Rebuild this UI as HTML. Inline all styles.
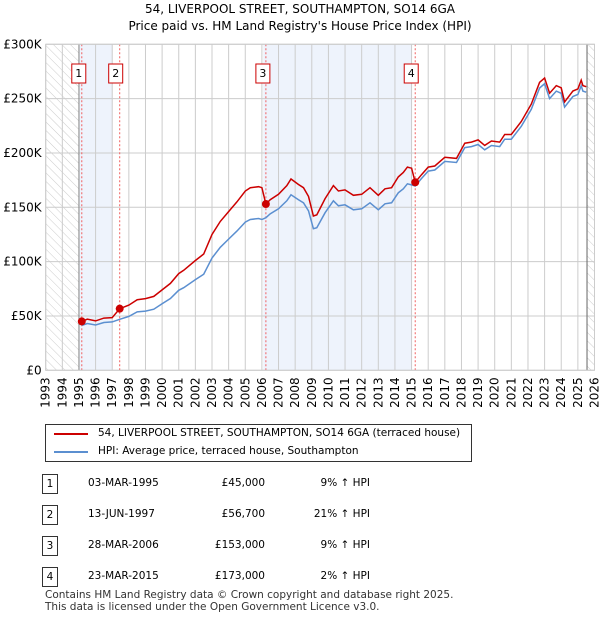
<!DOCTYPE html>
<html><head><meta charset="utf-8"><style>
body{margin:0;background:#fff;font-family:"Liberation Sans","DejaVu Sans",sans-serif;}
#wrap{position:relative;width:600px;height:620px;overflow:hidden}
text{font-family:"DejaVu Sans","Liberation Sans",sans-serif}
</style></head><body><div id="wrap">
<svg id="svg" width="600" height="620" viewBox="0 0 600 620">
<defs><pattern id="hatch" width="6" height="6" patternUnits="userSpaceOnUse" patternTransform="rotate(-45)"><line x1="0" y1="0" x2="0" y2="6" stroke="#ccc" stroke-width="1"/></pattern></defs>
<text x="300" y="13" text-anchor="middle" font-size="12">54, LIVERPOOL STREET, SOUTHAMPTON, SO14 6GA</text>
<text x="300" y="30" text-anchor="middle" font-size="12">Price paid vs. HM Land Registry's House Price Index (HPI)</text>
<g id="plot"></g>
</svg>
<div style="position:absolute;left:45px;top:424px;width:425px;height:36px;border:1px solid #333;font-size:10.5px;white-space:nowrap;font-family:'DejaVu Sans','Liberation Sans',sans-serif">
<div style="position:absolute;left:8px;top:8px;width:34px;height:2px;background:#c00"></div>
<div style="position:absolute;left:52px;top:2px">54, LIVERPOOL STREET, SOUTHAMPTON, SO14 6GA (terraced house)</div>
<div style="position:absolute;left:8px;top:26px;width:34px;height:2px;background:#5b8fd0"></div>
<div style="position:absolute;left:52px;top:20px">HPI: Average price, terraced house, Southampton</div>
</div>
<div id="table" style="font-size:10.5px;font-family:'DejaVu Sans','Liberation Sans',sans-serif"></div>
<div style="position:absolute;left:45px;top:589px;font-size:10.5px;line-height:12px;color:#333;font-family:'DejaVu Sans','Liberation Sans',sans-serif">Contains HM Land Registry data © Crown copyright and database right 2025.<br>This data is licensed under the Open Government Licence v3.0.</div>
</div>
<script>
const times=[1995.17,1995.5,1996,1996.5,1997,1997.45,1998,1998.5,1999,1999.5,2000,2000.5,2001,2001.3,2002,2002.5,2003,2003.5,2004,2004.5,2005,2005.3,2005.8,2006,2006.24,2006.5,2007,2007.5,2007.75,2008.2,2008.5,2008.8,2009.1,2009.3,2009.8,2010.3,2010.6,2011,2011.5,2012,2012.5,2013,2013.4,2013.8,2014.2,2014.5,2014.75,2015.0,2015.22,2015.6,2016,2016.4,2017,2017.7,2018.2,2018.6,2019,2019.4,2019.8,2020.3,2020.6,2021,2021.6,2022.2,2022.7,2023.0,2023.3,2023.7,2024.0,2024.2,2024.7,2025.0,2025.2,2025.3,2025.5];
const redValues=[45,47,45.5,48,48.5,56.7,60,65,66,68,74,80,89,92,101,107,125,137,146,155,165,168,169,168,153,157,162,170,176,171,168,160,142,143,158,170,165,166,161,162,168,161,167,168,178,182,187,186,173,180,187,188,196,195,209,210,212,207,211,210,217,217,229,245,265,269,255,262,260,247,257,259,267,262,261];
const hpiValues=[41.3,43.1,41.7,44,44.5,46.9,49.6,53.7,54.5,56.2,61.2,66.1,73.6,76,83.5,88.4,103.3,113.2,120.7,128.1,136.4,138.8,139.7,138.8,140.4,144,148.6,156,161.5,156.9,154.1,146.8,130.3,131.2,145,156,151.4,152.3,147.7,148.6,154.1,147.7,153.2,154.1,163.3,167,171.6,170.6,169.6,176.5,183.3,184.3,192.2,191.2,204.9,205.9,207.8,202.9,206.9,205.9,212.7,212.7,224.5,240.2,259.8,263.7,250,256.9,254.9,242.2,252,253.9,261.8,256.9,255.9];
const saleLabels=["1","2","3","4"];
const saleTimes=[1995.17,1997.45,2006.24,2015.22];
const salePrices=[45,56.7,153,173];
const saleDates=["03-MAR-1995","13-JUN-1997","28-MAR-2006","23-MAR-2015"];
const salePriceText=["£45,000","£56,700","£153,000","£173,000"];
const saleHpiText=["9% ↑ HPI","21% ↑ HPI","9% ↑ HPI","2% ↑ HPI"];
const yTicks=[0,50,100,150,200,250,300];
const yTickLabels=["£0","£50K","£100K","£150K","£200K","£250K","£300K"];
const shadeRanges=[[1995,1997],[2006.08,2015]];

const X0=45.7,X1=594.5,Y0=370.3,Y1=44.3,T0=1993,T1=2026;
const xs=t=>X0+(t-T0)/(T1-T0)*(X1-X0);
const ys=v=>Y0-v/300*(Y0-Y1);
const NS="http://www.w3.org/2000/svg";
const g=document.getElementById('plot');
function mk(tag,attrs,parent){const e=document.createElementNS(NS,tag);for(const k in attrs)e.setAttribute(k,attrs[k]);(parent||g).appendChild(e);return e;}

for(const r of shadeRanges){const e=mk('rect',{x:xs(r[0]),y:Y1,width:xs(r[1])-xs(r[0]),height:Y0-Y1,fill:'#eef3fc'});

}
let h=mk('rect',{x:X0,y:Y1,width:xs(1995)-X0,height:Y0-Y1,fill:'url(#hatch)'});


h=mk('rect',{x:xs(2025.55),y:Y1,width:X1-xs(2025.55),height:Y0-Y1,fill:'url(#hatch)'});


for(let y=T0;y<=T1;y++){const e=mk('line',{x1:xs(y),x2:xs(y),y1:Y1,y2:Y0,stroke:'#ccc','stroke-width':1});


const t=mk('text',{x:0,y:0,'font-size':12,'text-anchor':'end',transform:`translate(${xs(y)+4},${Y0+7}) rotate(-90)`});t.textContent=y;

}
yTicks.forEach((v,i)=>{const e=mk('line',{x1:X0,x2:X1,y1:ys(v),y2:ys(v),stroke:'#ccc','stroke-width':1});


const t=mk('text',{x:X0-4,y:ys(v)+4,'font-size':12,'text-anchor':'end'});t.textContent=yTickLabels[i];

});
let b=mk('line',{x1:xs(1995),x2:xs(1995),y1:Y1,y2:Y0,stroke:'#888'});


b=mk('line',{x1:xs(2025.55),x2:xs(2025.55),y1:Y1,y2:Y0,stroke:'#666'});


saleTimes.forEach((t,i)=>{const e=mk('line',{x1:xs(t),x2:xs(t),y1:Y1,y2:Y0,stroke:'#f06060','stroke-dasharray':'2,2'});


const bx=xs(t)-[3,4,3,4][i]-7;
const r=mk('rect',{x:bx,y:64,width:14,height:19,fill:'#fff',stroke:'#c00'});


const tx=mk('text',{x:bx+7,y:77,'font-size':11,'text-anchor':'middle'});tx.textContent=saleLabels[i];

});
const path=v=>times.map((t,i)=>(i?'L':'M')+xs(t).toFixed(1)+','+ys(v[i]).toFixed(1)).join('');
let p=mk('path',{d:path(hpiValues),fill:'none',stroke:'#5b8fd0','stroke-width':1.5});


p=mk('path',{d:path(redValues),fill:'none',stroke:'#c00','stroke-width':1.5});


saleTimes.forEach((t,i)=>{const c=mk('circle',{cx:xs(t),cy:ys(salePrices[i]),r:4,fill:'#c00'});

});
let ax=mk('rect',{x:X0,y:Y1,width:X1-X0,height:Y0-Y1,fill:'none',stroke:'#ccc'});



const tb=document.getElementById('table');
saleLabels.forEach((l,i)=>{const top=474+i*31;
const row=document.createElement('div');


row.style.cssText=`position:absolute;left:0;top:${top}px;width:600px;height:20px`;
row.innerHTML=`<div style="position:absolute;left:42px;top:0;width:14px;height:18px;border:1px solid #333;text-align:center;line-height:18px">${l}</div>`+
`<div style="position:absolute;left:88px;top:3px">${saleDates[i]}</div>`+
`<div style="position:absolute;left:205px;width:60px;top:3px;text-align:right">${salePriceText[i]}</div>`+
`<div style="position:absolute;left:300px;width:70px;top:3px;text-align:right">${saleHpiText[i]}</div>`;
tb.appendChild(row);});
</script></body></html>
